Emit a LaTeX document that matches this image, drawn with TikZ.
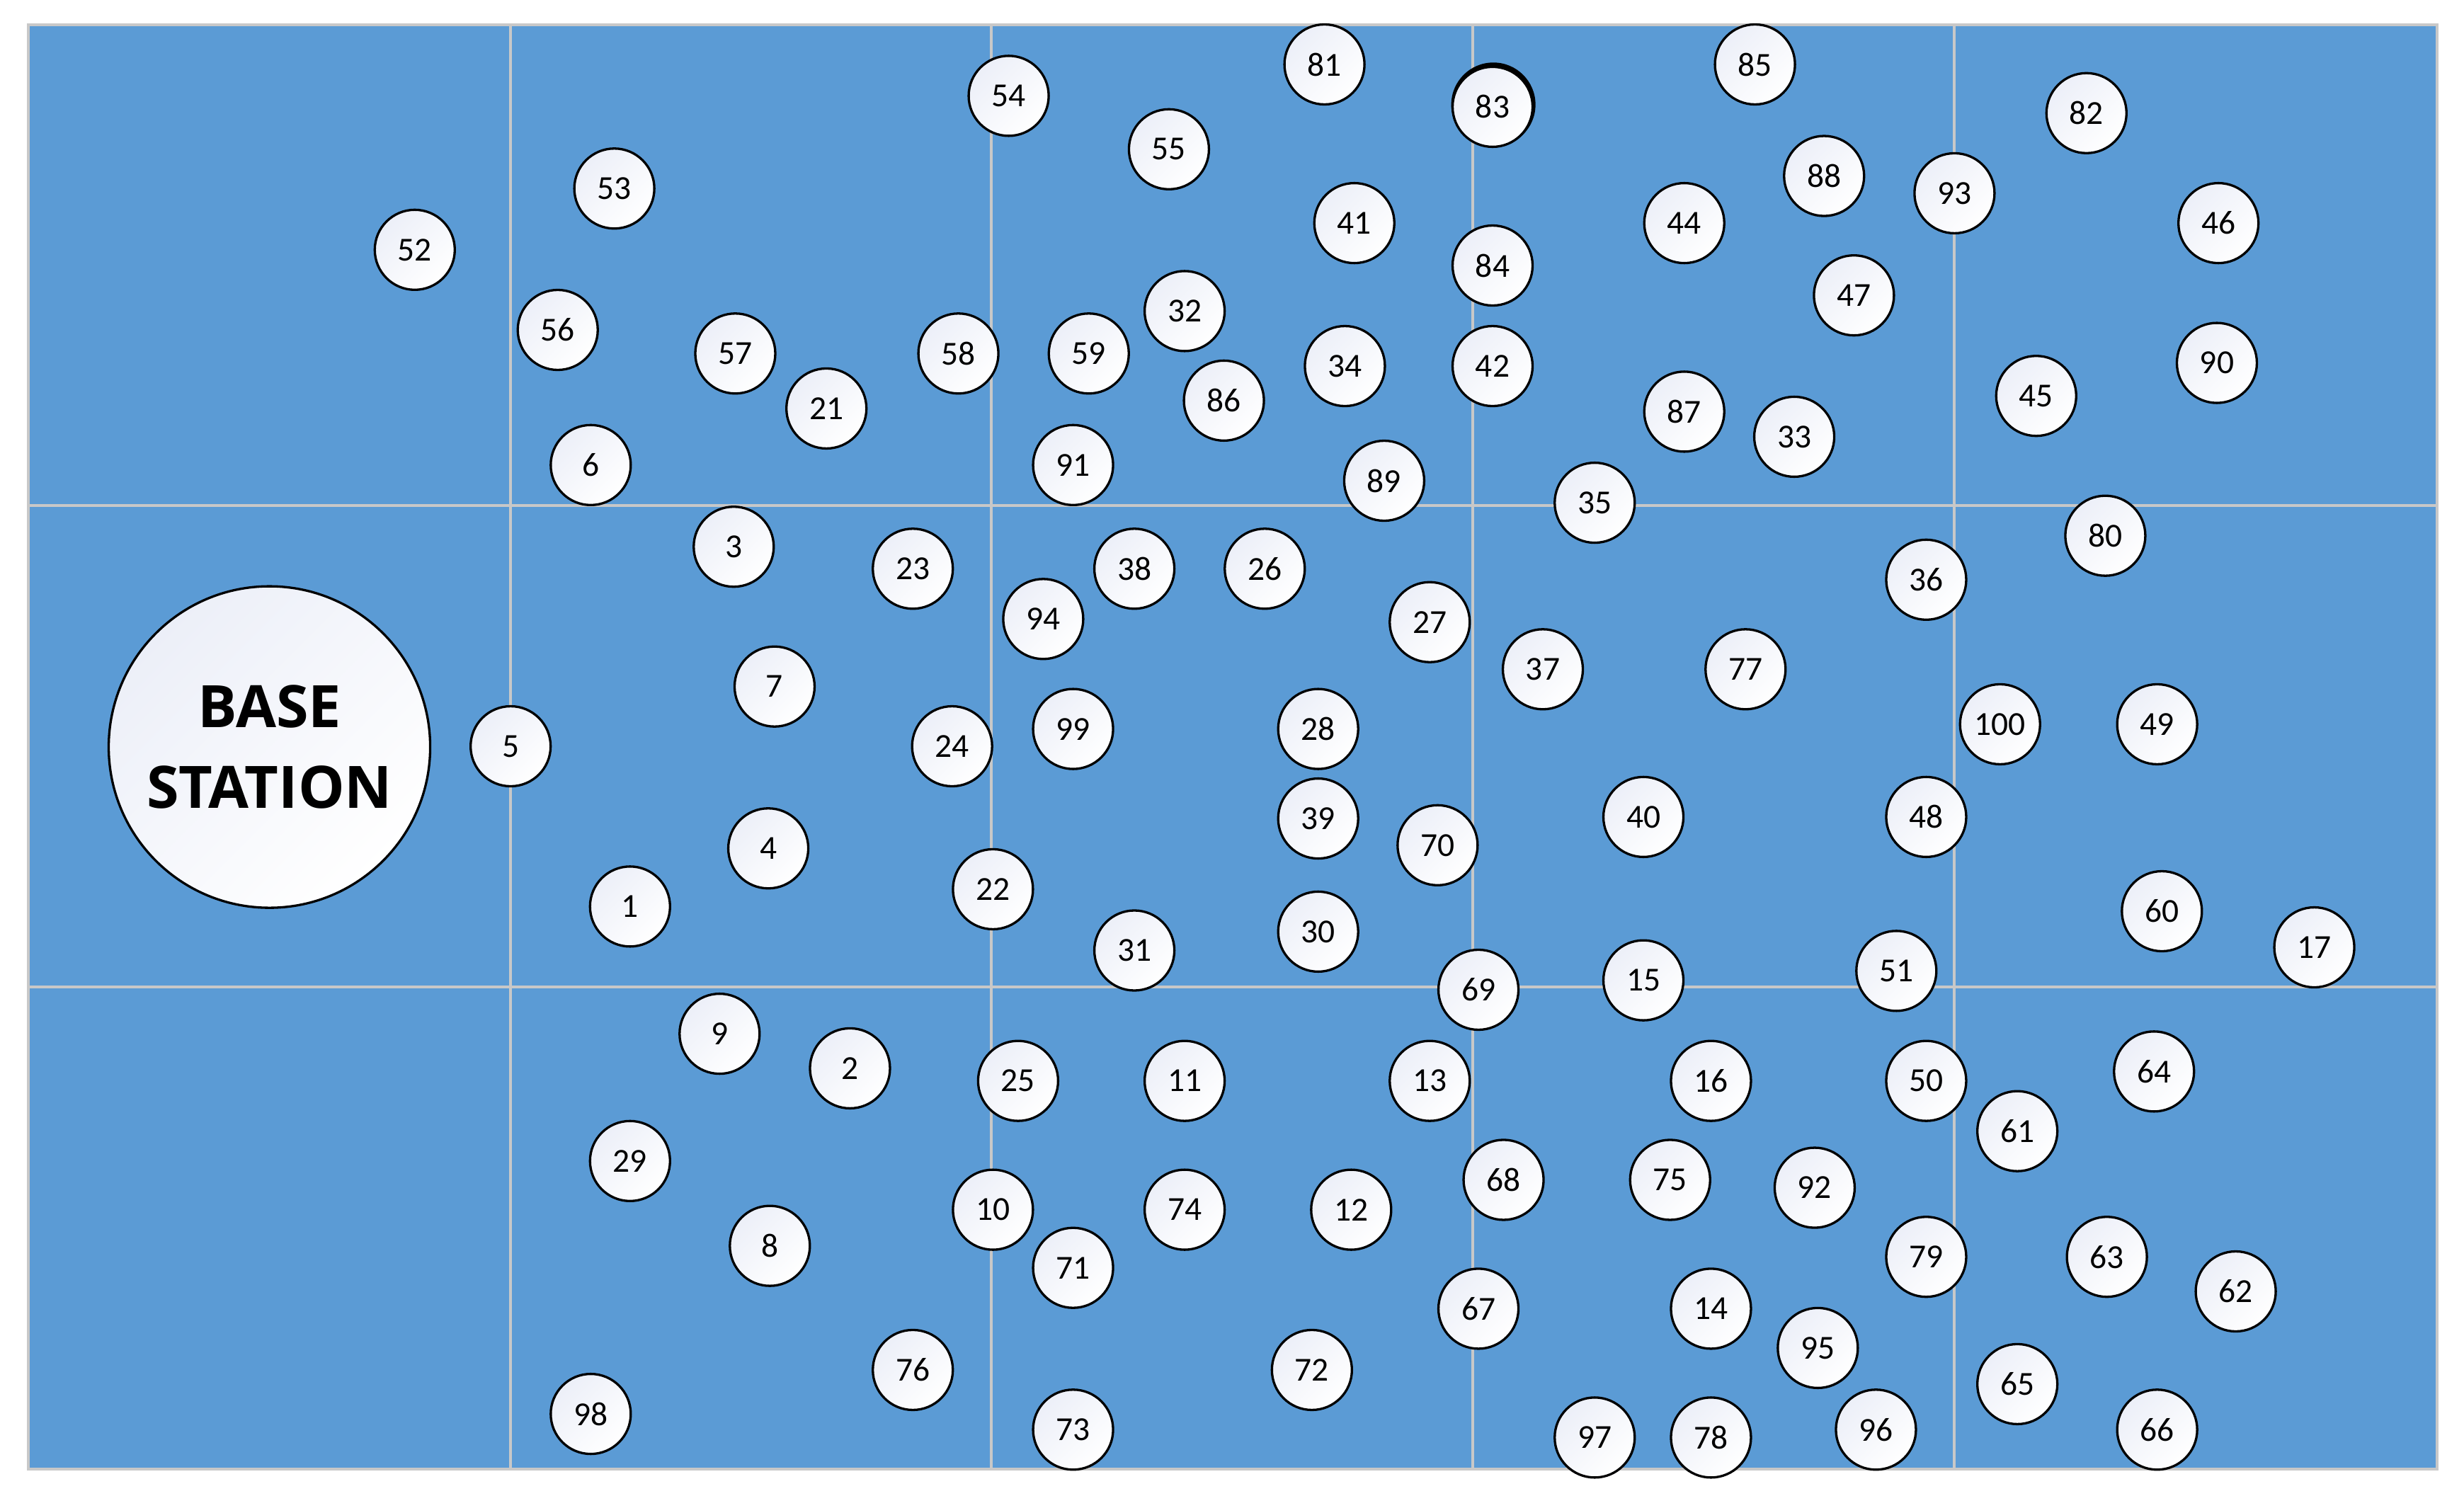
\documentclass[tikz,border=0pt]{standalone}
\usepackage{fontspec}
\setmainfont{Carlito}
\newfontfamily\bsfont{Open Sans}
\definecolor{bgblue}{HTML}{5B9BD5}
\definecolor{gridgray}{HTML}{C8C8C8}
\definecolor{nodetint}{HTML}{ECEFF8}
\begin{document}
\begin{tikzpicture}[x=0.02219cm,y=-0.02219cm,
  sensor/.style={circle,draw=black,line width=0.94pt,top color=nodetint,bottom color=white,shading angle=45,minimum size=1.13cm,inner sep=0pt,font=\fontsize{13.5}{14}\selectfont},
  basest/.style={circle,draw=black,line width=0.94pt,top color=nodetint,bottom color=white,shading angle=45,minimum size=4.54cm,inner sep=0pt,align=center,font=\bsfont\bfseries\fontsize{23.5}{32.5}\selectfont},
  gridline/.style={gridgray,line width=1.1pt}]
\useasboundingbox (0,0) rectangle (1568.3,952.2);
\fill[bgblue] (18,15.8) rectangle (1551.1,935.1);
\draw[gridline] (325,15.8) -- (325,935.1);
\draw[gridline] (631,15.8) -- (631,935.1);
\draw[gridline] (937.4,15.8) -- (937.4,935.1);
\draw[gridline] (1243.8,15.8) -- (1243.8,935.1);
\draw[gridline] (18,321.8) -- (1551.1,321.8);
\draw[gridline] (18,628.2) -- (1551.1,628.2);
\draw[gridline] (18,15.8) rectangle (1551.1,935.1);
\node[basest] (bs) at (171.5,475.5) {BASE\\STATION};
\fill[black] (950.5,66.6) circle[radius=0.595cm];
\foreach \n/\x/\y in {
52/264/159, 53/391/120, 54/642/61, 55/744/95, 81/843/41, 83/950/68, 85/1117/41, 82/1328/72,
88/1161/112, 93/1244/123, 46/1412/142, 41/862/142, 84/950/169, 44/1072/142, 47/1180/188,
56/355/210, 57/468/225, 58/610/225, 59/693/225, 32/754/198, 21/526/260, 34/856/233, 42/950/233,
86/779/255, 87/1072/262, 33/1142/278, 45/1296/252, 90/1411/231, 6/376/296, 91/683/296, 89/881/306,
35/1015/320, 3/467/348, 23/581/362, 38/722/362, 26/805/362, 94/664/394, 27/910/396, 36/1226/369,
80/1340/341, 37/982/426, 77/1111/426, 7/493/437, 5/325/475, 24/606/475, 99/683/464, 28/839/464,
100/1273/461, 49/1373/461, 39/839/521, 70/915/538, 40/1046/520, 48/1226/520, 4/489/540, 22/632/566,
1/401/577, 60/1376/580, 31/722/605, 30/839/593, 69/941/630, 15/1046/624, 51/1207/618, 17/1473/603,
9/458/658, 2/541/680, 25/648/688, 11/754/688, 13/910/688, 16/1089/688, 50/1226/688, 64/1371/682,
61/1284/720, 29/401/739, 68/957/751, 75/1063/751, 92/1155/756, 10/632/770, 74/754/770, 12/860/770,
8/490/793, 71/683/807, 79/1226/800, 63/1341/800, 62/1423/822, 67/941/833, 14/1089/833, 95/1157/858,
76/581/872, 72/835/872, 65/1284/881, 98/376/900, 73/683/910, 97/1015/915, 78/1089/915, 96/1194/910,
66/1373/910}
  \node[sensor] (n\n) at (\x,\y) {\n};
\end{tikzpicture}
\end{document}
